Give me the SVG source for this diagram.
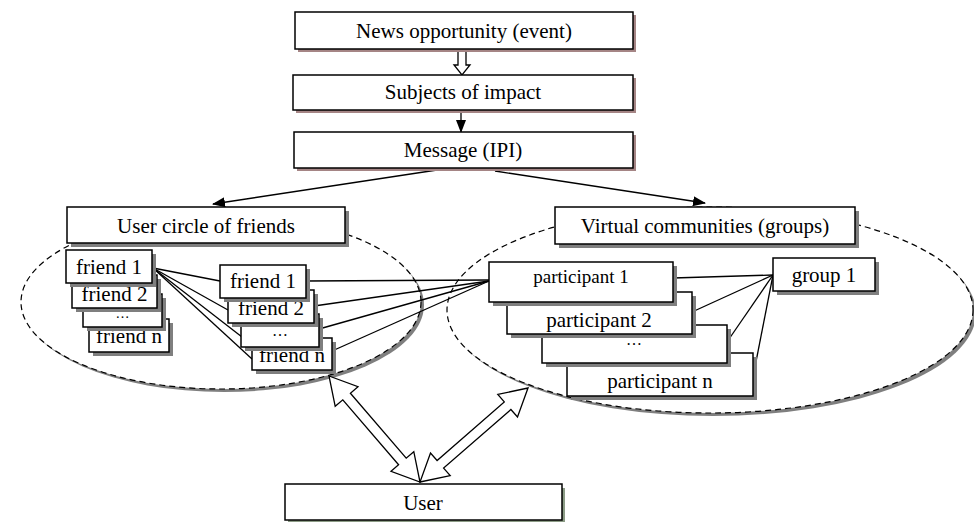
<svg xmlns="http://www.w3.org/2000/svg" width="974" height="522" viewBox="0 0 974 522">
<defs>
<marker id="ah" markerWidth="13" markerHeight="10" refX="12" refY="5" orient="auto" markerUnits="userSpaceOnUse"><path d="M0,0 L13,5 L0,10 z" fill="#000"/></marker>
</defs>
<style>
.box{fill:#fff;stroke:#000;stroke-width:1.5}
.sh{fill:#7f7f7f}
.shb{fill:#a58585}
.shg{fill:#8c9c86}
text{font-family:"Liberation Serif","Times New Roman",serif;font-size:21px;fill:#000;text-anchor:middle}
text.dots{font-size:16px}
.ln{stroke:#000;stroke-width:1.3;fill:none}
.ell{fill:#fff;stroke:#000;stroke-width:1.2;stroke-dasharray:6 4}
.hollow{fill:#fff;stroke:#000;stroke-width:1.3;stroke-linejoin:miter}
</style>
<rect width="974" height="522" fill="#fff"/>
<g id="areas">
<ellipse class="sh" cx="224" cy="305" rx="200" ry="87"/>
<ellipse class="ell" cx="221" cy="302" rx="200" ry="87"/>
<ellipse class="sh" cx="713" cy="313" rx="263" ry="103"/>
<ellipse class="ell" cx="710" cy="310" rx="263" ry="103"/>
</g>
<g id="connectors">
<polygon class="hollow" points="458,51 466,51 466,65 470,65 462,75 454,65 458,65"/>
<line class="ln" x1="461" y1="111" x2="461" y2="132" marker-end="url(#ah)"/>
<line class="ln" x1="437" y1="170" x2="213" y2="204" marker-end="url(#ah)"/>
<line class="ln" x1="495" y1="171" x2="705" y2="203" marker-end="url(#ah)"/>
<line class="ln" x1="153" y1="268" x2="220" y2="281"/>
<line class="ln" x1="153" y1="268" x2="228" y2="310"/>
<line class="ln" x1="153" y1="268" x2="242" y2="337"/>
<line class="ln" x1="153" y1="268" x2="252" y2="359"/>
<line class="ln" x1="306" y1="281" x2="489" y2="280"/>
<line class="ln" x1="314" y1="306" x2="489" y2="281"/>
<line class="ln" x1="319" y1="329" x2="489" y2="281"/>
<line class="ln" x1="332" y1="351" x2="489" y2="281"/>
<line class="ln" x1="773" y1="275" x2="673" y2="278"/>
<line class="ln" x1="773" y1="275" x2="692" y2="312"/>
<line class="ln" x1="773" y1="275" x2="727" y2="342"/>
<line class="ln" x1="773" y1="275" x2="753" y2="377"/>
<polygon class="hollow" points="329,376 358,386.7 350.4,393.2 406.2,458.2 413.8,451.7 420,482 391,471.3 398.6,464.8 342.8,399.8 335.2,406.3"/>
<polygon class="hollow" points="528,388 517.5,417 510.9,409.5 443.6,468.1 450.2,475.6 420,482 430.5,453 437.1,460.5 504.3,401.9 497.8,394.4"/>
</g>
<g id="news">
<rect class="shb" x="298" y="15" width="338" height="37"/>
<rect class="box" x="295" y="12" width="338" height="37"/>
<text x="464" y="38">News opportunity (event)</text>
</g>
<g id="subjects">
<rect class="shb" x="296" y="78" width="340" height="35"/>
<rect class="box" x="293" y="75" width="340" height="35"/>
<text x="463" y="99">Subjects of impact</text>
</g>
<g id="message">
<rect class="shb" x="297" y="135" width="339" height="36"/>
<rect class="box" x="294" y="132" width="339" height="36"/>
<text x="463" y="157">Message (IPI)</text>
</g>
<g id="user-circle">
<rect class="sh" x="71" y="211" width="278" height="36"/>
<rect class="box" x="67" y="207" width="278" height="36"/>
<text x="206" y="233">User circle of friends</text>
</g>
<g id="virtual-communities">
<rect class="sh" x="559" y="211" width="300" height="37"/>
<rect class="box" x="555" y="207" width="300" height="37"/>
<text x="705" y="233">Virtual communities (groups)</text>
</g>
<g id="left-friend-n">
<rect class="sh" x="93" y="323" width="80" height="33"/>
<rect class="box" x="89" y="319" width="80" height="33"/>
<text x="129" y="343">friend n</text>
</g>
<g id="left-friend-dots">
<rect class="sh" x="87" y="298" width="79" height="33"/>
<rect class="box" x="83" y="294" width="79" height="33"/>
<text class="dots" x="122.5" y="318" style="font-size:14px">…</text>
</g>
<g id="left-friend-2">
<rect class="sh" x="76" y="279" width="85" height="33"/>
<rect class="box" x="72" y="275" width="85" height="33"/>
<text x="114.5" y="301">friend 2</text>
</g>
<g id="left-friend-1">
<rect class="sh" x="70" y="254" width="86" height="33"/>
<rect class="box" x="66" y="250" width="86" height="33"/>
<text x="109" y="274">friend 1</text>
</g>
<g id="right-friend-n">
<rect class="sh" x="256" y="342" width="80" height="32"/>
<rect class="box" x="252" y="338" width="80" height="32"/>
<text x="292" y="362">friend n</text>
</g>
<g id="right-friend-dots">
<rect class="sh" x="245" y="318" width="78" height="33"/>
<rect class="box" x="241" y="314" width="78" height="33"/>
<text class="dots" x="280" y="336">…</text>
</g>
<g id="right-friend-2">
<rect class="sh" x="232" y="294" width="86" height="33"/>
<rect class="box" x="228" y="290" width="86" height="33"/>
<text x="271" y="315">friend 2</text>
</g>
<g id="right-friend-1">
<rect class="sh" x="224" y="269" width="86" height="33"/>
<rect class="box" x="220" y="265" width="86" height="33"/>
<text x="263" y="288">friend 1</text>
</g>
<g id="participant-n">
<rect class="sh" x="571" y="357" width="186" height="43"/>
<rect class="box" x="567" y="353" width="186" height="43"/>
<text x="660" y="388">participant n</text>
</g>
<g id="participant-dots">
<rect class="sh" x="546" y="329" width="185" height="38"/>
<rect class="box" x="542" y="325" width="185" height="38"/>
<text class="dots" x="634" y="345">…</text>
</g>
<g id="participant-2">
<rect class="sh" x="511" y="296" width="185" height="42"/>
<rect class="box" x="507" y="292" width="185" height="42"/>
<text x="599" y="327">participant 2</text>
</g>
<g id="participant-1">
<rect class="sh" x="493" y="266" width="184" height="40"/>
<rect class="box" x="489" y="262" width="184" height="40"/>
<text x="581" y="283" style="font-size:19px">participant 1</text>
</g>
<g id="group-1">
<rect class="sh" x="777" y="262" width="102" height="33"/>
<rect class="box" x="773" y="258" width="102" height="33"/>
<text x="824" y="282">group 1</text>
</g>
<g id="user">
<rect class="shg" x="288" y="488" width="277" height="36"/>
<rect class="box" x="285" y="484" width="277" height="36"/>
<text x="423" y="510">User</text>
</g>
</svg>
